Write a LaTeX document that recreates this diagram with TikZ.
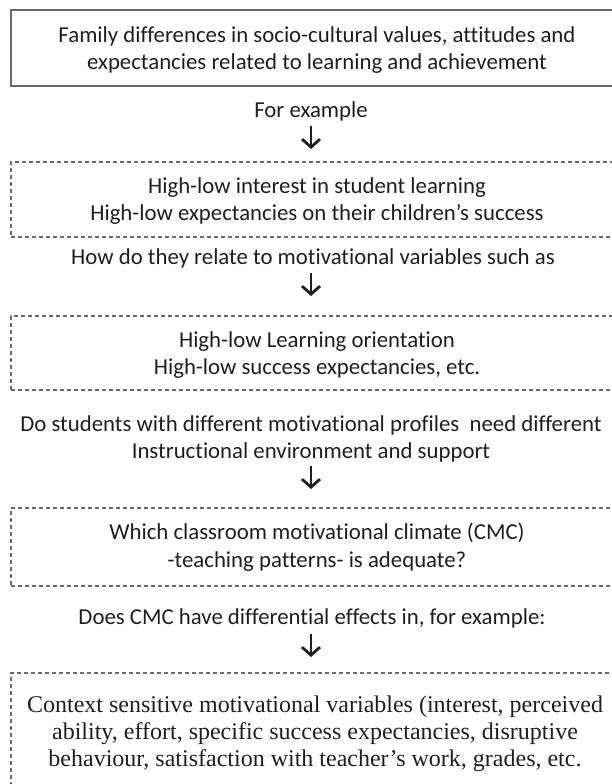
\documentclass[tikz,border=0pt]{standalone}
\usepackage{fontspec}
\setmainfont[Ligatures=CommonOff]{Carlito}
\newfontfamily\bodyserif{Liberation Serif}
\usetikzlibrary{arrows.meta}
\definecolor{ink}{HTML}{1E1E1E}
\definecolor{frame}{HTML}{6A6A6A}
\begin{document}
\begin{tikzpicture}[x=1pt,y=-1pt,
  txt/.style={font=\fontsize{22.8}{27.5}\selectfont, text=ink, align=center, inner sep=0pt},
  solidbox/.style={draw=frame, line width=1.3pt, rectangle, inner sep=0pt},
  dashbox/.style={draw=frame, line width=1.1pt, dash pattern=on 4pt off 3pt, rectangle, inner sep=0pt},
  down/.style={draw=ink, line width=2.8pt, -{Straight Barb[length=8pt,width=18pt,line width=2.8pt]}}]
  \useasboundingbox (0,0) rectangle (612,784);
  \clip (0,0) rectangle (612,784);

  % boxes (right edges run past the page)
  \node[solidbox, minimum width=614pt, minimum height=76pt] (b0) at (318,48) {};
  \node[dashbox, minimum width=614pt, minimum height=75pt] (b1) at (318,199.5) {};
  \node[dashbox, minimum width=614pt, minimum height=74pt] (b2) at (318,353) {};
  \node[dashbox, minimum width=614pt, minimum height=78pt] (b3) at (318,547) {};
  \node[dashbox, minimum width=614pt, minimum height=140pt] (b4) at (318,743) {};

  % box texts
  \node[txt] (t0) at (317,50) {Family differences in socio-cultural values, attitudes and\\expectancies related to learning and achievement};
  \node[txt] (t1) at (317,201) {High-low interest in student learning\\High-low expectancies on their children’s success};
  \node[txt] (t2) at (317,355) {High-low Learning orientation\\High-low success expectancies, etc.};
  \node[txt] (t3) at (317,547) {Which classroom motivational climate (CMC)\\-teaching patterns- is adequate?};
  \node[txt, font=\bodyserif\fontsize{24}{27}\selectfont] (t4) at (315,734) {Context sensitive motivational variables (interest, perceived\\ability, effort, specific success expectancies, disruptive\\behaviour, satisfaction with teacher’s work, grades, etc.};

  % questions between the boxes
  \node[txt] (q1) at (311,111) {For example};
  \node[txt] (q2) at (313,258) {How do they relate to motivational variables such as};
  \node[txt] (q3) at (311,439) {Do students with different motivational profiles\ \ need different\\Instructional environment and support};
  \node[txt] (q4) at (312,618) {Does CMC have differential effects in, for example:};

  % arrows
  \coordinate (a1s) at (311,126); \coordinate (a1e) at (311,149);
  \coordinate (a2s) at (311,273); \coordinate (a2e) at (311,296);
  \coordinate (a3s) at (311,466); \coordinate (a3e) at (311,489);
  \coordinate (a4s) at (311,634); \coordinate (a4e) at (311,657);
  \draw[down] (a1s) -- (a1e);
  \draw[down] (a2s) -- (a2e);
  \draw[down] (a3s) -- (a3e);
  \draw[down] (a4s) -- (a4e);
\end{tikzpicture}
\end{document}
